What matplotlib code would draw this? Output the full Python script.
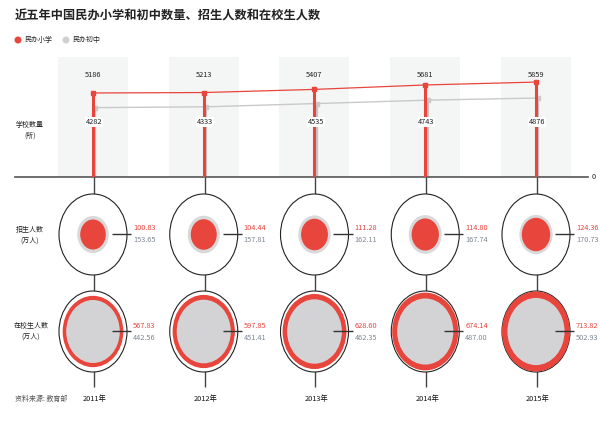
import numpy as np
import matplotlib
matplotlib.use("Agg")
import matplotlib.pyplot as plt
from matplotlib.patches import Ellipse

years = ["2011年", "2012年", "2013年", "2014年", "2015年"]
schools_primary = [5186, 5213, 5407, 5681, 5859]
schools_junior = [4282, 4333, 4535, 4743, 4876]
new_primary = [100.83, 104.44, 111.28, 114.80, 124.36]
new_junior = [153.65, 157.81, 162.11, 167.74, 170.73]
enrolled_primary = [567.83, 597.85, 628.60, 674.14, 713.82]
enrolled_junior = [442.56, 451.41, 462.35, 487.00, 502.93]

RED = "#e8453c"
GREY = "#d3d3d5"
GREY_TXT = "#7d8793"
CJK = ["Noto Sans CJK SC", "DejaVu Sans"]
NUMSIZE = 5.3

W, H = 600, 423
PX = 110.75  # pixels per category
fig = plt.figure(figsize=(6, 4.23), dpi=100)
x = np.arange(len(years))
xl = (-(93 - 15) / PX, (588 - 93) / PX)

# ---- top: school counts
ax = fig.add_axes([15 / W, (H - 177) / H, 573 / W, 120 / H])
ymax = 7407
ax.set_xlim(*xl)
ax.set_ylim(0, ymax)
ax.bar(x, ymax, width=70 / PX, color="#f4f5f5", zorder=0)
off = 2.5 / PX
ax.vlines(x + off, 0, schools_junior, color="#c4c4c4", lw=1.6, zorder=2)
ax.vlines(x, 0, schools_primary, color=RED, lw=2.2, zorder=3)
ax.plot(x + off, schools_junior, color="#c9c9c9", lw=1, marker="s", ms=2.2, zorder=2)
ax.plot(x, schools_primary, color=RED, lw=0.9, marker="s", ms=2.2, zorder=3)
tr = ax.get_xaxis_transform()
for i in x:
    ax.text(i, (177 - 75) / 120, str(schools_primary[i]), transform=tr,
            ha="center", va="center", fontsize=NUMSIZE, family=CJK, color="#222")
    ax.text(i + off / 2, (177 - 122) / 120, str(schools_junior[i]), transform=tr,
            ha="center", va="center", fontsize=NUMSIZE, family=CJK, color="#222", zorder=5,
            bbox=dict(boxstyle="square,pad=0.1", fc="white", ec="none"))
for s in ["top", "left", "right"]:
    ax.spines[s].set_visible(False)
ax.spines["bottom"].set_color("#555555")
ax.spines["bottom"].set_linewidth(1.2)
ax.set_xticks([])
ax.set_yticks([])
ax.patch.set_alpha(0)
ax.text(1.006, 0, "0", transform=ax.transAxes, ha="left", va="center",
        fontsize=NUMSIZE, family=CJK, color="#222")

# ---- bottom: circles
ax2 = fig.add_axes([15 / W, 0, 573 / W, 246 / H])
ax2.set_xlim(*xl)
ax2.set_ylim(423, 177)
ax2.axis("off")
ax2.vlines(x + 1 / PX, 177, 387, color="#444444", lw=1, zorder=0)

vmax = max(enrolled_primary)
rows = [(234.5, new_primary, new_junior, "#d9d9d9"),
        (331.5, enrolled_primary, enrolled_junior, GREY)]
for yc, prim, jun, gcol in rows:
    for i in x:
        ax2.add_patch(Ellipse((i, yc), 68 / PX, 81, fc="white", ec="#222222", lw=0.8, zorder=1))
        items = [(prim[i], RED), (jun[i], gcol)]
        items.sort(key=lambda t: -t[0])
        for z, (v, c) in enumerate(items):
            k = np.sqrt(v / vmax)
            ax2.add_patch(Ellipse((i, yc), 2 * 34 * k / PX, 2 * 40 * k, fc=c, ec="none", zorder=2 + z))
        ax2.hlines(yc, i + 19 / PX, i + 38 / PX, color="#333333", lw=1, zorder=5)
        ax2.text(i + 40 / PX, yc - 6, f"{prim[i]:.2f}", ha="left", va="center",
                 fontsize=NUMSIZE, family=CJK, color=RED)
        ax2.text(i + 40 / PX, yc + 6, f"{jun[i]:.2f}", ha="left", va="center",
                 fontsize=NUMSIZE, family=CJK, color=GREY_TXT)
for i in x:
    ax2.text(i + 2 / PX, 399, years[i], ha="center", va="center", fontsize=5.3,
             family=CJK, color="#111111")

# ---- text
fig.text(15 / W, 1 - 16 / H, "近五年中国民办小学和初中数量、招生人数和在校生人数",
         fontsize=8.8, fontweight="bold", family=CJK, color="#222222", va="center")
fig.patches.append(Ellipse((18 / W, 1 - 40 / H), 7 / W, 7 / H, transform=fig.transFigure,
                           fc="#e8453c", ec="none"))
fig.patches.append(Ellipse((66 / W, 1 - 40 / H), 7 / W, 7 / H, transform=fig.transFigure,
                           fc="#d0d0d0", ec="none"))
fig.text(24 / W, 1 - 40 / H, "民办小学", fontsize=5, family=CJK, va="center", color="#222")
fig.text(72 / W, 1 - 40 / H, "民办初中", fontsize=5, family=CJK, va="center", color="#222")
fig.text(30 / W, 1 - 130 / H, "学校数量\n(所)", fontsize=5, family=CJK, ha="center",
         va="center", color="#222", linespacing=1.5)
fig.text(30 / W, 1 - 235 / H, "招生人数\n(万人)", fontsize=5, family=CJK, ha="center",
         va="center", color="#222", linespacing=1.5)
fig.text(31 / W, 1 - 331 / H, "在校生人数\n(万人)", fontsize=5, family=CJK, ha="center",
         va="center", color="#222", linespacing=1.5)
fig.text(15 / W, 1 - 399 / H, "资料来源: 教育部", fontsize=5, family=CJK, va="center",
         color="#555555")

fig.savefig("out.png", dpi=100)
